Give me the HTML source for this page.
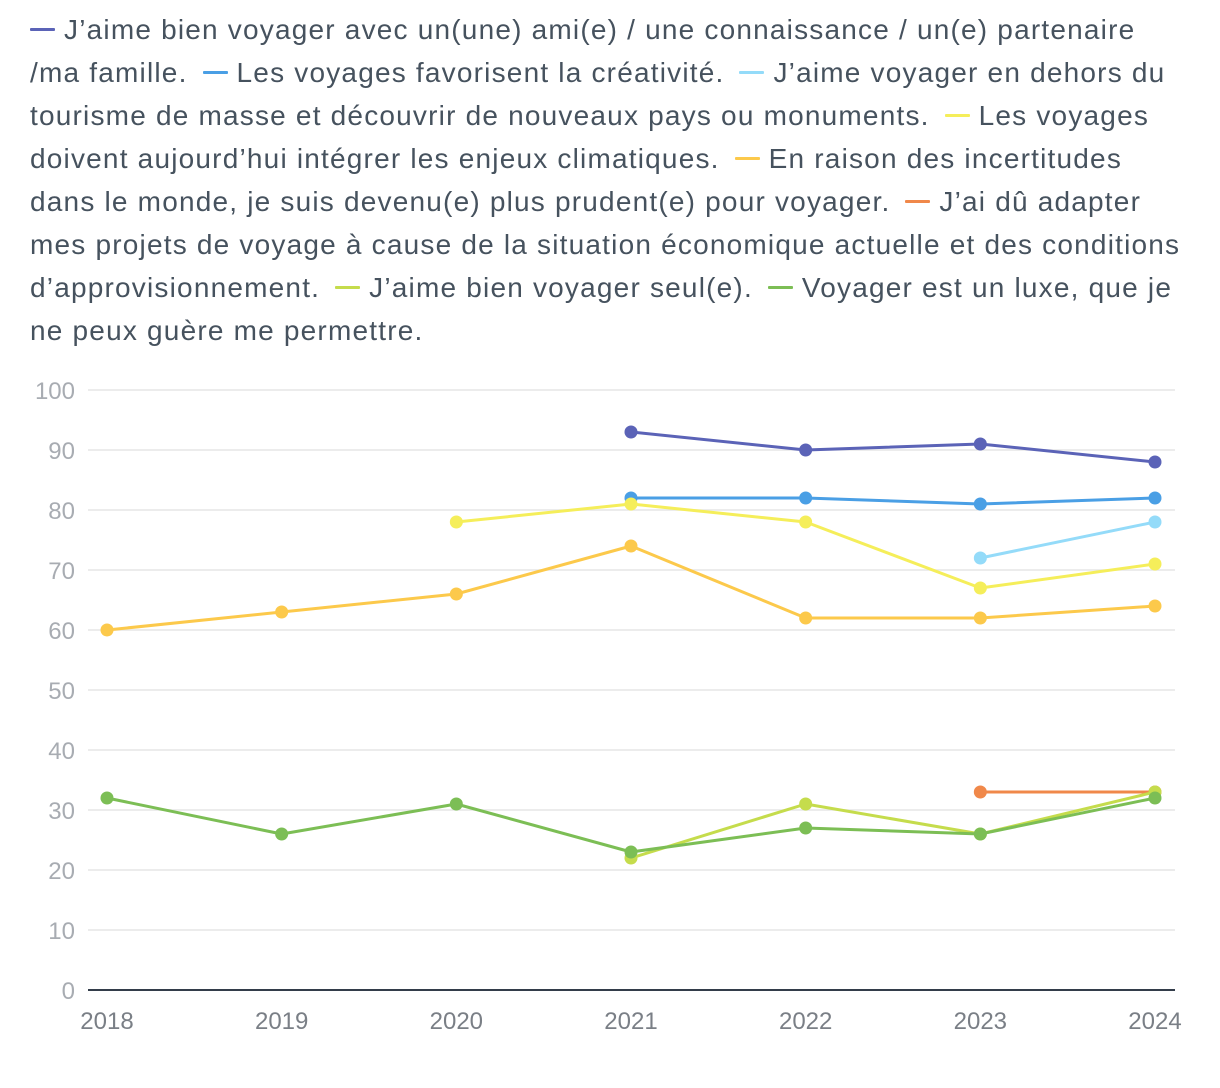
<!DOCTYPE html>
<html><head><meta charset="utf-8">
<style>
html,body{margin:0;padding:0;background:#fff;}
body{width:1220px;height:1088px;position:relative;overflow:hidden;font-family:"Liberation Sans",sans-serif;}
.lg{position:absolute;left:30px;font-size:28px;letter-spacing:1.2px;color:#46525e;white-space:nowrap;line-height:30px;}
.mk{display:inline-block;width:25px;height:3px;vertical-align:middle;margin:0 9px 4px 6px;border-radius:1px;}
</style></head><body>
<div>
<div class="lg" style="top:15px"><span class="mk" style="background:#5b63b7;margin-left:0"></span>J’aime bien voyager avec un(une) ami(e) / une connaissance / un(e) partenaire</div>
<div class="lg" style="top:58px">/ma famille. <span class="mk" style="background:#4a9fe5"></span>Les voyages favorisent la créativité. <span class="mk" style="background:#94dbf9"></span>J’aime voyager en dehors du</div>
<div class="lg" style="top:101px">tourisme de masse et découvrir de nouveaux pays ou monuments. <span class="mk" style="background:#f5ee5a"></span>Les voyages</div>
<div class="lg" style="top:144px">doivent aujourd’hui intégrer les enjeux climatiques. <span class="mk" style="background:#fcc94b"></span>En raison des incertitudes</div>
<div class="lg" style="top:187px">dans le monde, je suis devenu(e) plus prudent(e) pour voyager. <span class="mk" style="background:#f0884a"></span>J’ai dû adapter</div>
<div class="lg" style="top:230px">mes projets de voyage à cause de la situation économique actuelle et des conditions</div>
<div class="lg" style="top:273px">d’approvisionnement. <span class="mk" style="background:#c5dc4c"></span>J’aime bien voyager seul(e). <span class="mk" style="background:#7cbe55"></span>Voyager est un luxe, que je</div>
<div class="lg" style="top:316px">ne peux guère me permettre.</div>
</div>
<svg id="chart" width="1220" height="1088" style="position:absolute;left:0;top:0"></svg>
<script>
const years=[2018,2019,2020,2021,2022,2023,2024];
const yTicks=[0,10,20,30,40,50,60,70,80,90,100];
const sAmi=[null,null,null,93,90,91,88];
const sCreativite=[null,null,null,82,82,81,82];
const sHorsMasse=[null,null,null,null,null,72,78];
const sClimat=[null,null,78,81,78,67,71];
const sPrudent=[60,63,66,74,62,62,64];
const sAdapter=[null,null,null,null,null,33,33];
const sSeul=[null,null,null,22,31,26,33];
const sLuxe=[32,26,31,23,27,26,32];
const seriesNames=["ami","creativite","hors-masse","climat","prudent","adapter","seul","luxe"];
const seriesColors=["#5b63b7","#4a9fe5","#94dbf9","#f5ee5a","#fcc94b","#f0884a","#c5dc4c","#7cbe55"];
const seriesData=[sAmi,sCreativite,sHorsMasse,sClimat,sPrudent,sAdapter,sSeul,sLuxe];
const NS="http://www.w3.org/2000/svg";
const svg=document.getElementById('chart');
const X0=107,X1=1155,Y0=990,Y1=390;
const xs=i=>X0+(X1-X0)*i/(years.length-1);
const ys=v=>Y0-(Y0-Y1)*v/100;
function mk(t,a){const e=document.createElementNS(NS,t);for(const k in a)e.setAttribute(k,a[k]);svg.appendChild(e);return e;}
yTicks.forEach(v=>{
  if(v>0){const g=mk('line',{x1:88,x2:1175,y1:ys(v),y2:ys(v),stroke:'#e6e6e6','stroke-width':1.5});
  
  }
  const t=mk('text',{x:75,y:ys(v)+9,'text-anchor':'end','font-size':24,fill:'#a8acb2','font-family':'Liberation Sans, sans-serif'});
  t.textContent=v;
  
  
});
const ax=mk('line',{x1:88,x2:1175,y1:Y0,y2:Y0,stroke:'#333d4a','stroke-width':2});


years.forEach((y,i)=>{
  const t=mk('text',{x:xs(i),y:1029,'text-anchor':'middle','font-size':24,fill:'#7a7f86','font-family':'Liberation Sans, sans-serif'});
  t.textContent=y;
  
  
});
seriesData.forEach((d,si)=>{
  let pts=[];d.forEach((v,i)=>{if(v!=null)pts.push([xs(i),ys(v)]);});
  const p=mk('polyline',{points:pts.map(p=>p.join(',')).join(' '),fill:'none',stroke:seriesColors[si],'stroke-width':3,'stroke-linejoin':'round'});
  
  
  pts.forEach(q=>{const c=mk('circle',{cx:q[0],cy:q[1],r:6.5,fill:seriesColors[si]});
    
    });
});
</script>
</body></html>
